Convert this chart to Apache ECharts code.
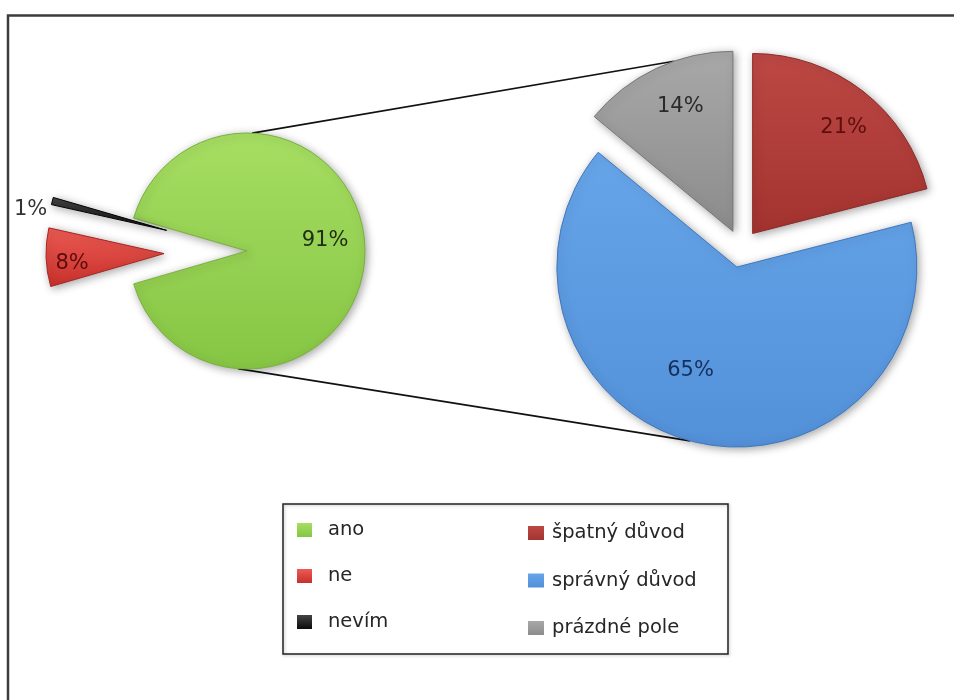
<!DOCTYPE html>
<html>
<head>
<meta charset="utf-8">
<script src="https://cdn.jsdelivr.net/npm/echarts@6/dist/echarts.min.js"></script>
<style>
  html, body { margin: 0; padding: 0; background: #ffffff; }
  #chart { width: 954px; height: 700px; }
</style>
</head>
<body>
<div id="chart"></div>
<script>
// Main pie: answers to the question
const mainCategories = ['ano', 'ne', 'nevím'];
const mainValues = [91, 8, 1];

// Secondary pie: breakdown of the "ano" answers
const detailCategories = ['špatný důvod', 'správný důvod', 'prázdné pole'];
const detailValues = [21, 65, 14];

// Styling
const FONT = 'DejaVu Sans';
const mainColors = [['#a6de62', '#86c544'], ['#ec5b53', '#c8302b'], ['#444444', '#0c0c0c']];
const mainBorders = ['#78b23a', '#a82622', '#000000'];
const mainLabelColors = ['#1f2d12', '#5a0d0d', '#333333'];
const detailColors = [['#bd4844', '#a3332f'], ['#67a5ea', '#5290d8'], ['#a8a8a8', '#8c8c8c']];
const detailBorders = ['#8e2a27', '#3f78c0', '#777777'];
const detailLabelColors = ['#5c0f0d', '#15305c', '#2a2a2a'];

// Label nudges [dx, dy] from the default inside position
const mainLabelShift = [[16, -10], [-30, 8], [-76, -5]];
const detailLabelShift = [[34, -32], [-26, 13], [-13, -41]];

// Geometry of the two pies
const leftCenter = [247, 251], leftR = 118, leftExplode = 83;
const rightCenter = [741, 248.5], rightR = 180, rightExplode = 19;

const mainSum = mainValues.reduce((a, b) => a + b, 0);
const detailSum = detailValues.reduce((a, b) => a + b, 0);
// first slice centred on the right-hand side
const leftStart = mainValues[0] / mainSum * 180;

function grad(c) {
  return new echarts.graphic.LinearGradient(0, 0, 0, 1, [
    { offset: 0, color: c[0] }, { offset: 1, color: c[1] }
  ]);
}

const mainData = mainCategories.map((name, i) => ({
  name, value: mainValues[i], selected: i > 0,
  itemStyle: { color: grad(mainColors[i]), borderColor: mainBorders[i] },
  label: { color: mainLabelColors[i] }
}));
const detailData = detailCategories.map((name, i) => ({
  name, value: detailValues[i], selected: true,
  itemStyle: { color: grad(detailColors[i]), borderColor: detailBorders[i] },
  label: { color: detailLabelColors[i] }
}));

// Connector lines from the main pie to the secondary pie
function polar(c, r, deg) {
  const a = deg * Math.PI / 180;
  return [c[0] + r * Math.cos(a), c[1] - r * Math.sin(a)];
}
function sliceCenter(idx) {
  let acc = 0;
  for (let k = 0; k < idx; k++) acc += detailValues[k];
  const mid = 90 - (acc + detailValues[idx] / 2) / detailSum * 360;
  return polar(rightCenter, rightExplode, mid);
}
const topA = polar(leftCenter, leftR, 87.5);
const botA = polar(leftCenter, leftR, -94.4);
const topB = polar(sliceCenter(2), rightR, 109.1);
const botB = polar(sliceCenter(1), rightR, -105);

const commonSeries = {
  type: 'pie',
  selectedMode: 'multiple',
  avoidLabelOverlap: false,
  minAngle: 0,
  clockwise: true,
  animation: false,
  label: {
    show: true, position: 'inside', formatter: '{c}%',
    fontFamily: FONT, fontSize: 21
  },
  labelLine: { show: false },
  emphasis: { disabled: true },
  itemStyle: {
    borderWidth: 1,
    shadowBlur: 8, shadowColor: 'rgba(0,0,0,0.35)',
    shadowOffsetX: 2, shadowOffsetY: 2
  }
};

const legendText = { fontFamily: FONT, fontSize: 19.5, color: '#262626', lineHeight: 20 };

const option = {
  backgroundColor: '#ffffff',
  animation: false,
  legend: [
    {
      data: mainCategories.map((n, i) => ({
        name: n, itemStyle: { color: grad(mainColors[i]), borderWidth: 0, shadowBlur: 0 }
      })),
      orient: 'vertical', left: 292, top: 515,
      itemWidth: 15, itemHeight: 14, itemGap: 26, icon: 'rect',
      selectedMode: false,
      textStyle: Object.assign({ padding: [0, 0, 0, 11] }, legendText)
    },
    {
      data: detailCategories.map((n, i) => ({
        name: n, itemStyle: { color: grad(detailColors[i]), borderWidth: 0, shadowBlur: 0 }
      })),
      orient: 'vertical', left: 523, top: 518,
      itemWidth: 16, itemHeight: 14, itemGap: 27.5, icon: 'rect',
      selectedMode: false,
      textStyle: Object.assign({ padding: [0, 0, 0, 3] }, legendText)
    }
  ],
  graphic: [
    {
      type: 'rect', silent: true, z: -1,
      shape: { x: 8, y: 15.5, width: 1000, height: 800 },
      style: { fill: 'none', stroke: '#3c3c3c', lineWidth: 2.5 }
    },
    {
      type: 'rect', silent: true,
      shape: { x: 283, y: 504, width: 445, height: 150 },
      style: { fill: 'none', stroke: '#222222', lineWidth: 1.5,
               shadowBlur: 3, shadowColor: 'rgba(0,0,0,0.25)', shadowOffsetX: 1, shadowOffsetY: 1 }
    },
    {
      type: 'line', silent: true,
      shape: { x1: topA[0], y1: topA[1], x2: topB[0], y2: topB[1] },
      style: { stroke: '#111111', lineWidth: 1.6 }
    },
    {
      type: 'line', silent: true,
      shape: { x1: botA[0], y1: botA[1], x2: botB[0], y2: botB[1] },
      style: { stroke: '#111111', lineWidth: 1.6 }
    }
  ],
  series: [
    Object.assign({}, commonSeries, {
      name: 'odpověď',
      center: leftCenter, radius: leftR,
      startAngle: leftStart,
      selectedOffset: leftExplode,
      labelLayout: p => ({ dx: mainLabelShift[p.dataIndex][0], dy: mainLabelShift[p.dataIndex][1] }),
      data: mainData
    }),
    Object.assign({}, commonSeries, {
      name: 'zdůvodnění',
      center: rightCenter, radius: rightR,
      startAngle: 90,
      selectedOffset: rightExplode,
      labelLayout: p => ({ dx: detailLabelShift[p.dataIndex][0], dy: detailLabelShift[p.dataIndex][1] }),
      data: detailData
    })
  ]
};

const chart = echarts.init(document.getElementById('chart'), null, { renderer: 'canvas' });
chart.setOption(option);
</script>
</body>
</html>
